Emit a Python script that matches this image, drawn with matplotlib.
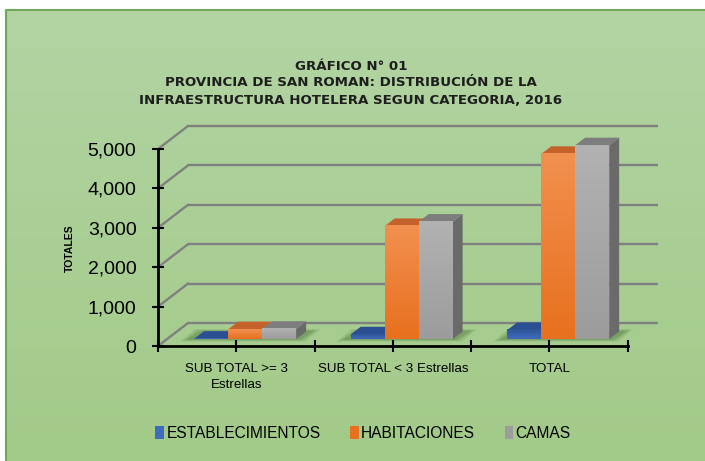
import matplotlib
matplotlib.use("Agg")
import matplotlib.pyplot as plt
import numpy as np
from matplotlib.patches import Polygon, Patch
from matplotlib.lines import Line2D
from matplotlib.colors import LinearSegmentedColormap
from matplotlib.ticker import FuncFormatter

# data
categories = ["SUB TOTAL >= 3\nEstrellas", "SUB TOTAL < 3 Estrellas", "TOTAL"]
series_names = ["ESTABLECIMIENTOS", "HABITACIONES", "CAMAS"]
establecimientos = [10, 120, 230]
habitaciones = [250, 2870, 4700]
camas = [260, 2980, 4920]
yticks = [0, 1000, 2000, 3000, 4000, 5000]

title = ("GRÁFICO N° 01\nPROVINCIA DE SAN ROMAN: DISTRIBUCIÓN DE LA\n"
         "INFRAESTRUCTURA HOTELERA SEGUN CATEGORIA, 2016")

arial = "Liberation Sans"

W, H = 705, 461
fig = plt.figure(figsize=(W / 100, H / 100), dpi=100, facecolor="white")

# green panel with gradient
bg = fig.add_axes([6 / W, 0, 1 - 6 / W, 1 - 10 / H])
grad = np.linspace(0, 1, 256).reshape(-1, 1)
bg.imshow(grad, aspect="auto", extent=[0, 1, 0, 1], origin="upper",
          cmap=LinearSegmentedColormap.from_list("bg", ["#b2d4a3", "#a2ca88"]))
bg.axis("off")
fig.add_artist(Line2D([6 / W, 6 / W, 1], [0, 1 - 10 / H, 1 - 10 / H],
                      transform=fig.transFigure, color="#6ea85a", lw=1.5))

# main axes (front plane)
px_x = 156.5      # pixels per category
px_y = 0.0394     # pixels per unit
ax = fig.add_axes([158 / W, (H - 346) / H, 3.25 * px_x / W, 230 / H])
ax.set_facecolor("none")
ymax = 230 / px_y

# depth of the 3D box
DX = 30 / px_x
DY = 23 / px_y
grid_col = "#808080"
for v in yticks:
    ax.plot([DX, 3 + DX], [v + DY, v + DY], color=grid_col, lw=1.7, zorder=1,
            solid_capstyle="butt")
    ax.plot([0, DX], [v, v + DY], color=grid_col, lw=1.7, zorder=1)

# bars
fx, fy = 0.3 * DX, 0.3 * DY
bx, by = 0.33 * DX, 0.33 * DY
bw = 34 / px_x

styles = [
    dict(top="#2f5597", bottom="#3f6bbf", lid="#2a4f92", side="#2b4f8f"),
    dict(top="#f2904f", bottom="#e8701e", lid="#c4622b", side="#b85a22"),
    dict(top="#b2b2b2", bottom="#9c9c9c", lid="#7d7d7d", side="#6a6a6a"),
]
series = [establecimientos, habitaciones, camas]

z = 3
for i in range(len(categories)):
    x_start = i + 0.5 - 1.5 * bw + fx
    # soft floor shadow
    for k, a in enumerate([0.10, 0.12, 0.16]):
        g = 0.06 - k * 0.018
        gy = 60 - k * 20
        shadow = Polygon([(x_start - g - 0.03, fy - gy), (x_start + 3 * bw + g, fy - gy),
                          (x_start + 3 * bw + bx + g + 0.03, fy + by + gy),
                          (x_start + bx - g, fy + by + gy)],
                         closed=True, facecolor="#244d15", edgecolor="none", alpha=a, zorder=2)
        ax.add_patch(shadow)
    for j, vals in enumerate(series):
        h = vals[i]
        st = styles[j]
        x0 = x_start + j * bw
        y0 = fy
        side = Polygon([(x0 + bw, y0), (x0 + bw + bx, y0 + by),
                        (x0 + bw + bx, y0 + h + by), (x0 + bw, y0 + h)],
                       closed=True, facecolor=st["side"], edgecolor="none", zorder=z)
        lid = Polygon([(x0, y0 + h), (x0 + bw, y0 + h),
                       (x0 + bw + bx, y0 + h + by), (x0 + bx, y0 + h + by)],
                      closed=True, facecolor=st["lid"], edgecolor="none", zorder=z + 0.1)
        ax.add_patch(side)
        ax.add_patch(lid)
        cm = LinearSegmentedColormap.from_list("f%d" % j, [st["top"], st["bottom"]])
        ax.imshow(grad, aspect="auto", cmap=cm, origin="upper",
                  extent=[x0, x0 + bw, y0, y0 + h], zorder=z + 0.2, interpolation="bilinear")
        z += 1

ax.set_xlim(0, 3.25)
ax.set_ylim(0, ymax)
ax.set_aspect("auto")

# axes lines and ticks
for s in ["top", "right"]:
    ax.spines[s].set_visible(False)
ax.spines["left"].set_bounds(0, 5000)
ax.spines["bottom"].set_bounds(0, 3)
for s in ["left", "bottom"]:
    ax.spines[s].set_linewidth(2)
    ax.spines[s].set_zorder(20)

ax.set_yticks(yticks)
ax.yaxis.set_major_formatter(FuncFormatter(lambda v, p: "{:,}".format(int(v))))
ax.tick_params(axis="y", direction="inout", length=9, width=1.5, pad=11,
               labelsize=14)
for t in ax.get_yticklabels():
    t.set_fontfamily(arial)

ax.set_xticks([0, 1, 2, 3])
ax.set_xticklabels([])
ax.set_xticks([0.5, 1.5, 2.5], minor=True)
ax.set_xticklabels(categories, minor=True, fontsize=9.6, fontfamily=arial,
                   multialignment="center", linespacing=1.45)
ax.tick_params(axis="x", which="both", direction="inout", length=9, width=1.5, pad=8)

fig.text(70 / W, 1 - 248 / H, "TOTALES", rotation=90, ha="center", va="center",
         fontsize=7.5, fontweight="bold", fontfamily=arial)

fig.text(351 / W, 1 - 83 / H, title, ha="center", va="center", fontsize=9.6,
         fontweight="bold", fontfamily="DejaVu Sans", color="#1e1e1e",
         linespacing=1.4)

handles = [Patch(facecolor=st["bottom"], edgecolor="none", label=n)
           for st, n in zip(styles, series_names)]
fig.legend(handles=handles, loc="center", bbox_to_anchor=(363 / W, 1 - 433 / H),
           ncol=3, frameon=False, handlelength=0.55, handleheight=0.9,
           handletextpad=0.15, columnspacing=1.9,
           prop={"family": arial, "size": 11.2})

fig.savefig("out.png", dpi=100)
